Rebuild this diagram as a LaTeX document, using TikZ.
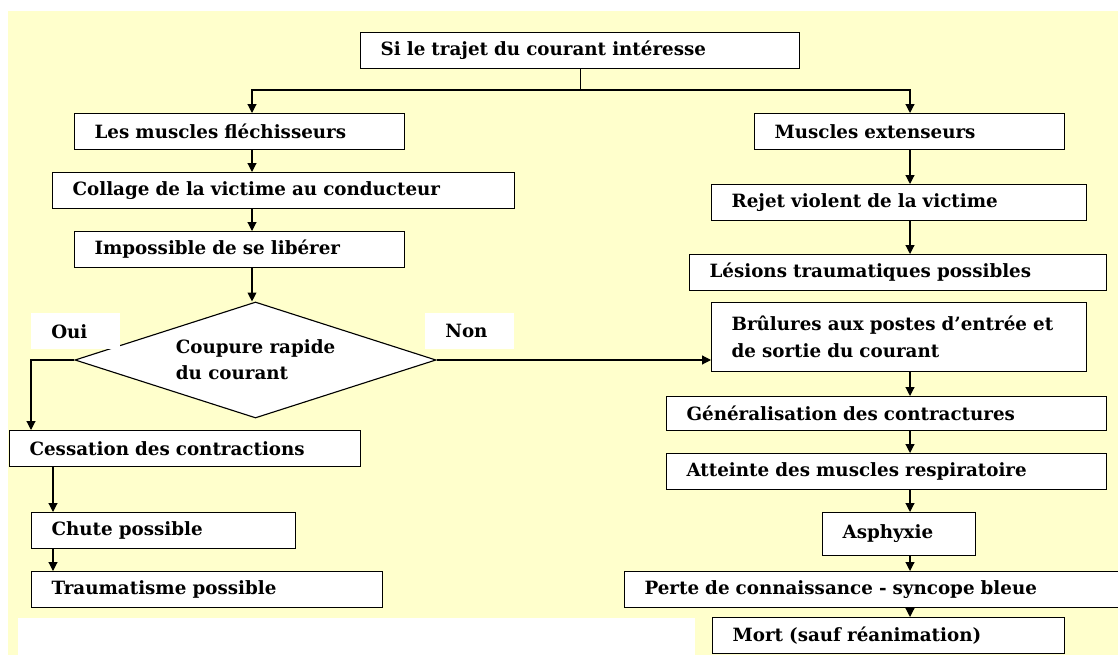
\documentclass[tikz,border=0pt]{standalone}
\usepackage{fontspec}
\setmainfont{DejaVu Serif}
\usepackage{xcolor}
\usetikzlibrary{arrows.meta, positioning, shapes.geometric}

\definecolor{fondjaune}{RGB}{255,255,204}

\begin{document}
\begin{tikzpicture}[x=0.025cm, y=-0.025cm,
    etape/.style={rectangle, draw, line width=0.8pt, fill=white, anchor=north west,
                  inner xsep=0.5cm, inner ysep=0pt, minimum height=0.9cm,
                  align=left, font=\bfseries\fontsize{13}{19}\selectfont},
    etiquette/.style={rectangle, fill=white, anchor=north west, inner xsep=0.5cm,
                  inner ysep=0pt, minimum height=0.9cm, text width=1.225cm,
                  align=left, font=\bfseries\fontsize{13}{19}\selectfont},
    choix/.style={diamond, draw, line width=0.8pt, fill=white, inner sep=0pt,
                  aspect=3, minimum width=9.025cm, minimum height=2.9cm,
                  align=left, font=\bfseries\fontsize{13}{18.5}\selectfont},
    fleche/.style={-{Triangle[length=2.2mm, width=2.2mm]}, line width=0.8pt},
]
\useasboundingbox (0,0) rectangle (1118,655);

% fond
\fill[fondjaune] (8,11) rectangle (1118,655);
\fill[white] (18,618) rectangle (695,655);

% Depart
\node[etape, text width=9.975cm] (trajet) at (360,32) {Si le trajet du courant intéresse};

% Branche gauche
\node[etape, text width=7.25cm] (flech) at (74,113) {Les muscles fléchisseurs};
\node[etape, text width=10.55cm] (coll) at (52,172) {Collage de la victime au conducteur};
\node[etape, text width=7.25cm] (imp) at (74,231) {Impossible de se libérer};

% Decision
\node[choix] (dec) at (255.5,360) {Coupure rapide\\du courant};
\node[etiquette] (oui) at (31,313) {Oui};
\node[etiquette] (non) at (425,313) {Non};

% Oui
\node[etape, text width=7.775cm] (cess) at (9,430) {Cessation des contractions};
\node[etape, text width=5.6cm] (chute) at (31,512) {Chute possible};
\node[etape, text width=7.775cm] (trauma) at (31,571) {Traumatisme possible};

% Branche droite
\node[etape, text width=6.75cm] (ext) at (754,113) {Muscles extenseurs};
\node[etape, text width=8.375cm] (rejet) at (711,184) {Rejet violent de la victime};
\node[etape, text width=9.425cm] (lesions) at (689,254) {Lésions traumatiques possibles};

% Non
\node[etape, text width=8.375cm, minimum height=1.725cm] (brul) at (711,302)
    {Brûlures aux postes d’entrée et\\de sortie du courant};
\node[etape, text width=10cm, minimum height=0.85cm] (gener) at (666,396) {Généralisation des contractures};
\node[etape, text width=10cm] (atteinte) at (666,453) {Atteinte des muscles respiratoire};
\node[etape, text width=2.825cm, minimum height=1.075cm] (asph) at (822,512) {Asphyxie};
\node[etape, text width=11.4cm] (perte) at (624,571) {Perte de connaissance - syncope bleue};
\node[etape, text width=7.8cm] (mort) at (712,617) {Mort (sauf réanimation)};

% Axes des fleches
\coordinate (fourche) at (0,90);
\coordinate (axeG) at (252,0);
\coordinate (axeD) at (910,0);
\coordinate (axeO) at (31,0);
\coordinate (axeC) at (53,0);

\draw[fleche] (trajet.south) |- (axeG |- fourche) -- (axeG |- flech.north);
\draw[fleche] (trajet.south) |- (axeD |- fourche) -- (axeD |- ext.north);

\draw[fleche] (axeG |- flech.south) -- (axeG |- coll.north);
\draw[fleche] (axeG |- coll.south) -- (axeG |- imp.north);
\draw[fleche] (axeG |- imp.south) -- (axeG |- dec.north);

\draw[fleche] (dec.west) -| (axeO |- cess.north);
\draw[fleche] (dec.east) -- (dec.east -| brul.west);

\draw[fleche] (axeC |- cess.south) -- (axeC |- chute.north);
\draw[fleche] (axeC |- chute.south) -- (axeC |- trauma.north);

\draw[fleche] (axeD |- ext.south) -- (axeD |- rejet.north);
\draw[fleche] (axeD |- rejet.south) -- (axeD |- lesions.north);
\draw[fleche] (axeD |- brul.south) -- (axeD |- gener.north);
\draw[fleche] (axeD |- gener.south) -- (axeD |- atteinte.north);
\draw[fleche] (axeD |- atteinte.south) -- (axeD |- asph.north);
\draw[fleche] (axeD |- asph.south) -- (axeD |- perte.north);
\draw[fleche] (axeD |- perte.south) -- (axeD |- mort.north);

\end{tikzpicture}
\end{document}
